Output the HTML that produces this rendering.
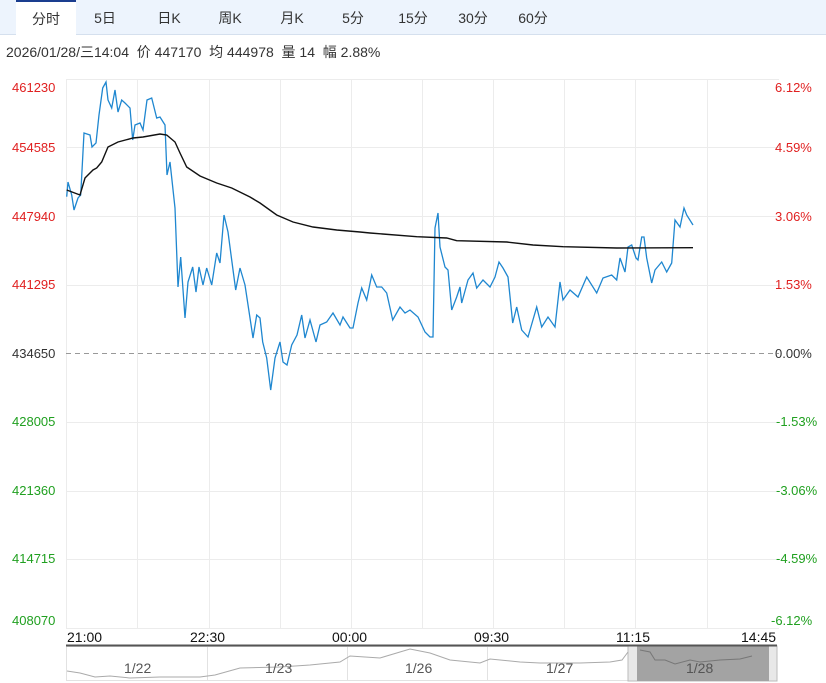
<!DOCTYPE html>
<html><head><meta charset="utf-8"><style>
body{margin:0;width:826px;height:683px;background:#fff;overflow:hidden;font-family:"Liberation Sans","Noto Sans CJK SC",sans-serif;}
.tabs{position:absolute;left:0;top:0;width:826px;height:34px;background:#edf4fd;border-bottom:1px solid #d5e0ee;}
.tab{position:absolute;top:0;height:34px;line-height:36px;font-size:14px;color:#333;text-align:center;}
.sel{background:#fff;border-top:2px solid #1a3d8f;height:33px;line-height:34px;}
.info{position:absolute;left:6px;top:42px;font-size:14px;color:#333;}
</style></head><body>
<div class="tabs">
<div class="tab sel" style="left:16px;width:60px;">分时</div>
<div class="tab" style="left:85px;width:40px;">5日</div>
<div class="tab" style="left:147px;width:44px;">日K</div>
<div class="tab" style="left:208px;width:44px;">周K</div>
<div class="tab" style="left:270px;width:44px;">月K</div>
<div class="tab" style="left:333px;width:40px;">5分</div>
<div class="tab" style="left:391px;width:44px;">15分</div>
<div class="tab" style="left:451px;width:44px;">30分</div>
<div class="tab" style="left:511px;width:44px;">60分</div>
</div>
<div class="info">2026/01/28/三14:04&nbsp; 价 447170&nbsp; 均 444978&nbsp; 量 14&nbsp; 幅 2.88%</div>
<svg width="826" height="683" style="position:absolute;left:0;top:0" font-family="Liberation Sans, sans-serif" font-size="13">
<g stroke="#ececec" stroke-width="1">
<line x1="66" y1="79.5" x2="779" y2="79.5"/><line x1="66" y1="147.5" x2="779" y2="147.5"/><line x1="66" y1="216.5" x2="779" y2="216.5"/><line x1="66" y1="285.5" x2="779" y2="285.5"/>
<line x1="66" y1="422.5" x2="779" y2="422.5"/><line x1="66" y1="491.5" x2="779" y2="491.5"/><line x1="66" y1="559.5" x2="779" y2="559.5"/><line x1="66" y1="628.5" x2="779" y2="628.5"/>
<line x1="66.5" y1="79" x2="66.5" y2="628"/><line x1="137.5" y1="79" x2="137.5" y2="628"/><line x1="209.5" y1="79" x2="209.5" y2="628"/><line x1="280.5" y1="79" x2="280.5" y2="628"/><line x1="351.5" y1="79" x2="351.5" y2="628"/><line x1="422.5" y1="79" x2="422.5" y2="628"/><line x1="493.5" y1="79" x2="493.5" y2="628"/><line x1="564.5" y1="79" x2="564.5" y2="628"/><line x1="635.5" y1="79" x2="635.5" y2="628"/><line x1="707.5" y1="79" x2="707.5" y2="628"/>
</g>
<line x1="66" y1="353.5" x2="779" y2="353.5" stroke="#999" stroke-dasharray="5,4"/>
<g fill="#e02020">
<text x="12" y="92">461230</text><text x="12" y="152">454585</text><text x="12" y="221">447940</text><text x="12" y="289">441295</text>
<text x="775" y="92">6.12%</text><text x="775" y="152">4.59%</text><text x="775" y="221">3.06%</text><text x="775" y="289">1.53%</text>
</g>
<text x="12" y="358" fill="#333">434650</text><text x="775" y="358" fill="#333">0.00%</text>
<g fill="#20a020">
<text x="12" y="426">428005</text><text x="12" y="495">421360</text><text x="12" y="563">414715</text><text x="12" y="625">408070</text>
<text x="776" y="426">-1.53%</text><text x="776" y="495">-3.06%</text><text x="776" y="563">-4.59%</text><text x="771" y="625">-6.12%</text>
</g>
<polyline fill="none" stroke="#1f87d0" stroke-width="1.3" points="66.7,196.7 68,182 71.7,195 74,210 78,198 80.7,195 84,133 90,135 92,147 96,143 99,115 102.7,88 106,82 108,100 111.7,108 115,90 118,112 121.7,100 125,103 130,108 132.7,140 135,125 140,123 143,130 147,100 151.7,98 156.7,118 160,117 165,125 167,175 170,162 175,208 178,287 180.7,257 185,318 188,282 192.7,267 196,292 199,267 203,285 206.7,268 211.7,285 216.7,253 220,263 224,215 228,232 231.7,260 235.7,290 240,268 245,285 250,318 253,338 256.7,315 260,318 262.7,342 266.7,358 270.7,390 275,358 280,342 283,362 287,365 291.7,345 297,335 301.7,315 305,338 310,320 316,342 320,325 326.7,322 333,313 340,325 343,317 350,328 353,328 358,303 361.7,288 366.7,300 371.7,275 376.7,287 381.7,287 386.7,293 392.7,320 400,307 405,313 410,310 418,317 425,332 430,337 433,337 435,228 438,213 440,247 445,267 448,270 451.7,310 456.7,297 460,287 461.7,303 468,280 473,273 476.7,288 483,280 490,287 495,277 499,262 503,268 508,277 512.7,323 516.7,307 521.7,330 528,337 536.7,307 541.7,327 548,317 555,327 560,282 563,300 570,290 578,297 586.7,277 596.7,293 603,278 611.7,275 616.7,280 620,258 625,272 628,247 631.7,245 636,258 638,260 641.7,237 644,237 646.7,258 651.7,283 655,270 661.7,262 666.7,272 671.7,263 675,220 680,227 684,208 686.7,215 693,225"/>
<polyline fill="none" stroke="#111" stroke-width="1.4" points="66.7,190 80,195 85,178 93,170 96.7,168 101.7,162 108,147 118,142 133,138 143,137 160,134 166.7,135 175,142 180,153 186.7,167 200,176 216.7,183 231.7,188 250,197 260,203 276.7,215 293,222 313,227 336.7,230 360,232 370,233 416.7,236.7 446.7,238 456.7,240.7 506.7,242 533,245 563,246.7 616.7,248 693,247.7"/>
<g fill="#111" font-size="14">
<text x="67" y="642">21:00</text><text x="190" y="642">22:30</text><text x="332" y="642">00:00</text><text x="474" y="642">09:30</text><text x="616" y="642">11:15</text><text x="741" y="642">14:45</text>
</g>
<rect x="66.5" y="646.5" width="710" height="34" fill="#fff" stroke="#e2e2e2"/>
<g stroke="#e2e2e2"><line x1="207.5" y1="646" x2="207.5" y2="681"/><line x1="347.5" y1="646" x2="347.5" y2="681"/><line x1="487.5" y1="646" x2="487.5" y2="681"/></g>
<rect x="628" y="646" width="149" height="35" fill="#e8e8e8" stroke="#bbb"/>
<rect x="637" y="646" width="132" height="35" fill="#a3a3a3"/>
<line x1="66" y1="645.5" x2="777" y2="645.5" stroke="#555" stroke-width="2"/>
<polyline fill="none" stroke="#aaa" stroke-width="1" points="67,671 80,673 95,677 110,676 130,678 160,677 200,677 215,675 240,668 280,667 310,665 340,662 350,656 380,658 400,652 410,649 430,653 450,660 480,663 490,659 520,662 540,663 580,663 610,662 622,660 628,652"/>
<polyline fill="none" stroke="#777" stroke-width="1" points="640,650 650,652 655,660 665,660 675,664 690,660 700,662 720,660 740,659 752,656"/>
<g fill="#555" font-size="14">
<text x="124" y="673">1/22</text><text x="265" y="673">1/23</text><text x="405" y="673">1/26</text><text x="546" y="673">1/27</text><text x="686" y="673">1/28</text>
</g>
</svg>
</body></html>
